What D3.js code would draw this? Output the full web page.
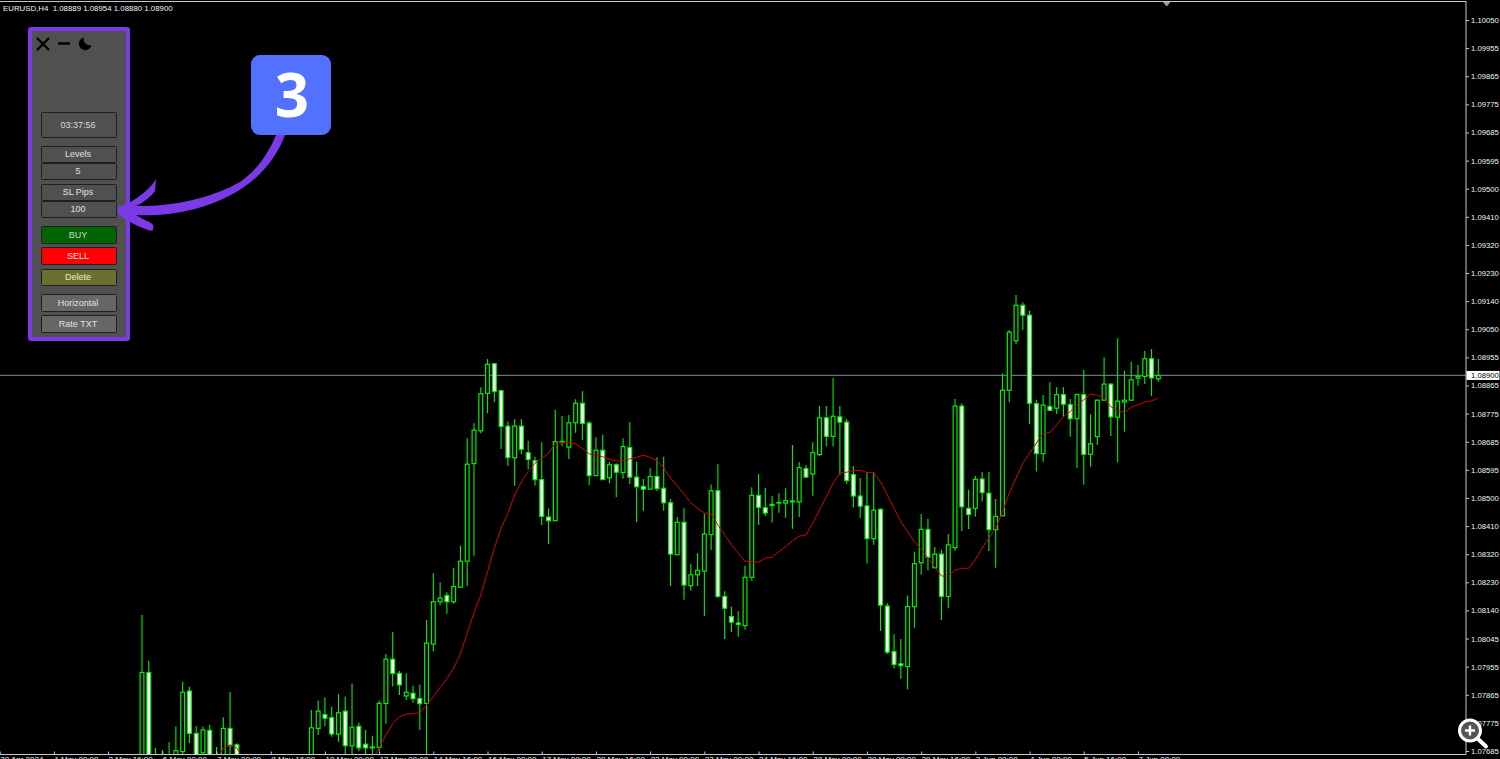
<!DOCTYPE html>
<html>
<head>
<meta charset="utf-8">
<style>
  html, body { margin: 0; background: #000; overflow: hidden; }
  svg { display: block; }
  text { font-family: "Liberation Sans", sans-serif; }
</style>
<script src="https://cdn.jsdelivr.net/npm/d3@7"></script>
</head>
<body>
<svg id="chart" width="1500" height="759"></svg>
<script>
// all prices are in points (1.08900 -> 108900).
// null = bar is below the bottom of the window, 107640 = end of bar is below it
var opens = [
  107650,107939,107650,107650,107650,107650,107683,107879,107742,107679,
  107752,107650,107650,107758,107705,null,null,null,null,null,
  null,null,null,null,null,107650,107758,107803,107793,107740,
  107814,107702,107765,107707,107698,107697,107839,107982,107936,107863,
  107872,107855,107839,108031,108168,108188,108168,108215,108299,108615,
  108721,108842,108938,108851,108736,108634,108736,108650,108624,108563,
  108442,108430,108683,108668,108747,108810,108746,108576,108658,108569,
  108611,108586,108667,108571,108541,108532,108573,108535,108488,108320,
  108425,108220,108255,108267,108385,108527,108185,108120,108099,108091,
  108247,108512,108472,108479,108487,108487,108491,108491,108599,108581,
  108644,108763,108703,108766,108749,108579,108510,108478,108372,108467,
  108154,108007,107967,107958,108152,108294,108402,108278,108322,108185,
  108343,108801,108470,108470,108565,108519,108401,108446,108852,109012,
  109127,109095,108809,108647,108800,108794,108838,108806,108760,108838,
  108645,108702,108820,108872,108765,108814,108820,108891,108897,108954,
  108889
];
var highs = [
  108125,107977,107695,107688,107714,107764,107909,107893,107766,107764,
  107769,107698,107794,107876,107710,null,null,null,null,null,
  null,null,null,null,null,107818,107848,107859,107828,107869,
  107861,107903,107777,107753,107734,107848,107999,108070,107944,107936,
  107896,107899,108109,108260,108231,108199,108278,108349,108697,108745,
  108862,108953,108939,108853,108751,108758,108758,108689,108637,108684,
  108470,108789,108769,108772,108823,108849,108752,108700,108708,108620,
  108616,108697,108749,108621,108565,108600,108635,108637,108500,108442,
  108470,108289,108325,108452,108547,108613,108202,108152,108137,108284,
  108538,108580,108536,108510,108519,108535,108675,108620,108610,108684,
  108801,108801,108892,108801,108758,108606,108568,108587,108587,108470,
  108163,108063,108047,108188,108330,108452,108436,108345,108336,108387,
  108824,108810,108530,108575,108588,108588,108500,108907,109047,109160,
  109137,109109,108821,108837,108878,108862,108862,108824,108842,108918,
  108774,108821,108958,108875,109020,108915,108944,108934,108979,108985,
  108954
];
var lows = [
  107640,107640,107640,107640,107640,107640,107640,107711,107640,107640,
  107640,107640,107640,107640,107640,null,null,null,null,null,
  null,null,null,null,null,107640,107737,107765,107731,107715,
  107640,107640,107684,107640,107640,107684,107773,107894,107866,107850,
  107841,107753,107640,108007,108156,108129,108161,108215,108219,108317,
  108713,108778,108813,108662,108607,108543,108645,108597,108543,108416,
  108355,108430,108672,108630,108715,108691,108545,108576,108563,108552,
  108507,108566,108548,108426,108462,108532,108526,108462,108219,108320,
  108174,108204,108219,108122,108335,108181,108047,108070,108055,108077,
  108236,108416,108445,108424,108456,108440,108404,108442,108571,108511,
  108640,108670,108670,108578,108550,108474,108440,108292,108352,108073,
  107999,107953,107919,107885,108084,108255,108269,108276,108109,108147,
  108333,108397,108403,108443,108492,108332,108278,108446,108813,109002,
  109047,108742,108589,108621,108787,108775,108767,108702,108600,108546,
  108605,108675,108820,108704,108619,108718,108820,108867,108872,108834,
  108880
];
var closes = [
  107939,107650,107655,107655,107655,107686,107875,107742,107650,107753,
  107650,107655,107758,107702,107650,null,null,null,null,null,
  null,null,null,null,null,107760,107814,107791,107740,107809,
  107702,107762,107695,107695,107695,107839,107982,107936,107899,107875,
  107854,107838,108034,108168,108180,108168,108217,108299,108613,108723,
  108841,108936,108848,108735,108634,108736,108661,108628,108563,108444,
  108430,108686,108687,108747,108810,108745,108576,108658,108563,108611,
  108587,108670,108571,108540,108532,108573,108534,108488,108322,108425,
  108222,108255,108270,108387,108527,108185,108147,108102,108094,108247,
  108512,108473,108455,108483,108489,108495,108494,108602,108571,108650,
  108763,108703,108768,108749,108560,108510,108477,108372,108464,108157,
  108005,107965,107961,108152,108291,108402,108312,108322,108185,108352,
  108801,108475,108450,108564,108521,108401,108444,108852,109040,109127,
  109095,108810,108647,108804,108787,108838,108807,108760,108838,108645,
  108679,108820,108872,108766,108817,108820,108886,108897,108954,108892,
  108900
];
// the red moving average
var average = [
  null,null,null,null,null,null,null,null,null,null,
  null,107656,107695,107705,107695,107656,null,null,null,null,
  null,null,null,null,null,null,null,null,null,null,
  null,null,null,null,107656,107695,107737,107773,107796,107804,
  107806,107809,107834,107861,107891,107919,107953,107999,108067,108132,
  108190,108265,108341,108406,108454,108513,108556,108589,108616,108632,
  108648,108681,108683,108683,108678,108664,108646,108643,108637,108629,
  108623,108624,108630,108635,108642,108635,108624,108601,108568,108543,
  108517,108488,108470,108455,108453,108416,108384,108352,108325,108299,
  108298,108296,108309,108312,108330,108346,108365,108380,108384,108422,
  108465,108508,108551,108584,108587,108593,108593,108586,108585,108556,
  108513,108470,108427,108395,108362,108338,108309,108280,108251,108251,
  108271,108276,108276,108305,108341,108373,108406,108459,108519,108567,
  108616,108648,108681,108713,108715,108740,108767,108783,108805,108821,
  108840,108836,108826,108799,108786,108780,108797,108805,108814,108818,
  108826
];

var priceLabels = [
  "1.10050","1.09955","1.09865","1.09775","1.09685","1.09595","1.09500","1.09410","1.09320",
  "1.09230","1.09140","1.09050","1.08955","1.08865","1.08775","1.08685","1.08595","1.08500",
  "1.08410","1.08320","1.08230","1.08140","1.08045","1.07955","1.07865","1.07775","1.07685"
];
var timeLabels = [
  "30 Apr 2024","1 May 00:00","2 May 16:00","6 May 00:00","7 May 00:00","8 May 16:00",
  "10 May 00:00","13 May 00:00","14 May 16:00","16 May 00:00","17 May 00:00","20 May 16:00",
  "22 May 00:00","23 May 00:00","24 May 16:00","28 May 00:00","29 May 00:00","30 May 16:00",
  "3 Jun 00:00","4 Jun 00:00","5 Jun 16:00","7 Jun 00:00"
];
// bar number of each time label, bar 0 is the first one on screen
var timeBars = [-21,-13,-5,3,11,19,27,35,43,51,59,67,75,83,91,99,107,115,123,131,139,147];

var panelButtons = ["03:37:56","Levels","5","SL Pips","100","BUY","SELL","Delete","Horizontal","Rate TXT"];
var buttonTop = [112,146,163,184,201,226,247,269,294,315];
var buttonHeight = [25,16,16,16,16,17,17,16,17,17];
var buttonFill = ["#505050","#505050","#505050","#505050","#505050","#006400","#ff0000","#6b7030","#666666","#666666"];
var buttonText = ["#d8d8d8","#e0e0e0","#e0e0e0","#e0e0e0","#e0e0e0","#c8dcc8","#ffe0e0","#f0eeb0","#e0e0e0","#e0e0e0"];

var header = "EURUSD,H4  1.08889 1.08954 1.08880 1.08900";
var lastPrice = closes[closes.length - 1];

var plotRight = 1466;
var plotBottom = 754.5;

var svg = d3.select("#chart");

var x = d3.scaleLinear().domain([0, 150]).range([142, 1158.3]);
var y = d3.scaleLinear().domain([110050, 107685]).range([20, 751]);
// the terminal spaces the price labels evenly and rounds the text
var yLabels = d3.scalePoint().domain(priceLabels).range([20, 751]);

svg.append("clipPath").attr("id", "plot")
  .append("rect").attr("x", 0).attr("y", 0).attr("width", plotRight).attr("height", plotBottom);

var plot = svg.append("g").attr("clip-path", "url(#plot)");

// line of the current price goes under the bars
plot.append("line")
  .attr("x1", 0).attr("x2", plotRight)
  .attr("y1", y(lastPrice)).attr("y2", y(lastPrice))
  .attr("stroke", "#66727c").attr("stroke-width", 1.2);

var bars = d3.range(opens.length).filter((i) => highs[i] !== null);

plot.selectAll(".wick")
  .data(bars)
  .enter()
  .append("line")
  .attr("class", "wick")
  .attr("x1", (i) => x(i)).attr("x2", (i) => x(i))
  .attr("y1", (i) => y(highs[i])).attr("y2", (i) => y(lows[i]))
  .attr("stroke", "#00f000").attr("stroke-width", 1.1);

plot.selectAll(".body")
  .data(bars)
  .enter()
  .append("rect")
  .attr("class", "body")
  .attr("x", (i) => x(i) - 1.9)
  .attr("width", 3.8)
  .attr("y", (i) => y(Math.max(opens[i], closes[i])))
  .attr("height", (i) => Math.abs(y(opens[i]) - y(closes[i])))
  .attr("fill", (i) => closes[i] >= opens[i] ? "#000" : "#fff")
  .attr("stroke", "#00f000").attr("stroke-width", 1.2);

var averageLine = d3.line()
  .defined((d) => d !== null)
  .x((d, i) => x(i))
  .y((d) => y(d));

plot.append("path")
  .attr("d", averageLine(average))
  .attr("fill", "none")
  .attr("stroke", "#d40000").attr("stroke-width", 1);

// frame
svg.append("line").attr("x1", 0).attr("x2", plotRight).attr("y1", 1.5).attr("y2", 1.5)
  .attr("stroke", "#c8c8c8").attr("stroke-width", 1);
svg.append("line").attr("x1", plotRight).attr("x2", plotRight).attr("y1", 1).attr("y2", plotBottom)
  .attr("stroke", "#c8c8c8").attr("stroke-width", 1);
svg.append("line").attr("x1", 0).attr("x2", plotRight).attr("y1", plotBottom).attr("y2", plotBottom)
  .attr("stroke", "#c8c8c8").attr("stroke-width", 1);

// little marker on top of the chart
svg.append("path")
  .attr("d", d3.line()([[1163, 2], [1170.5, 2], [1166.7, 6.5]]))
  .attr("fill", "#8ea2b6");

// price axis
var priceAxis = svg.append("g")
  .attr("transform", "translate(" + plotRight + ",0)")
  .call(d3.axisRight(yLabels).tickSizeOuter(0).tickSizeInner(3).tickPadding(2));
priceAxis.select(".domain").remove();
priceAxis.selectAll("line").attr("stroke", "#c8c8c8");
priceAxis.selectAll("text")
  .attr("fill", "#eef4f8")
  .style("font-size", "7.7px");

svg.append("rect")
  .attr("x", plotRight + 0.5).attr("y", y(lastPrice) - 4.5)
  .attr("width", 33).attr("height", 9)
  .attr("fill", "#fff");
svg.append("text")
  .attr("x", plotRight + 5).attr("y", y(lastPrice) + 3)
  .attr("fill", "#000")
  .style("font-size", "7.7px")
  .text(d3.format(".5f")(lastPrice / 100000));

// time axis, only the top of the labels fits in the window
var timeAxis = svg.append("g")
  .attr("transform", "translate(0," + plotBottom + ")")
  .call(d3.axisBottom(x).tickValues(timeBars).tickSizeOuter(0).tickFormat((d, i) => timeLabels[i]));
timeAxis.select(".domain").remove();
timeAxis.selectAll("line").attr("y2", -3).attr("stroke", "#c8c8c8");
timeAxis.selectAll("text")
  .attr("y", 7.6).attr("dy", null)
  .attr("text-anchor", "start")
  .attr("fill", "#eef4f8")
  .style("font-size", "8px");

svg.append("text")
  .attr("x", 3).attr("y", 10.5)
  .attr("fill", "#f4f4f4")
  .style("font-size", "7.85px")
  .style("white-space", "pre")
  .text(header);

// trade panel
var panel = svg.append("g");
panel.append("rect")
  .attr("x", 30).attr("y", 29).attr("width", 98).attr("height", 310)
  .attr("rx", 1)
  .attr("fill", "#505050")
  .attr("stroke", "#7a3ae6").attr("stroke-width", 4);

panel.selectAll(".button")
  .data(panelButtons)
  .enter()
  .append("rect")
  .attr("class", "button")
  .attr("x", 41.5)
  .attr("y", (d, i) => buttonTop[i] + 0.5)
  .attr("width", 75)
  .attr("height", (d, i) => buttonHeight[i])
  .attr("rx", 1)
  .attr("fill", (d, i) => buttonFill[i])
  .attr("stroke", "#202020").attr("stroke-width", 1);

panel.selectAll(".label")
  .data(panelButtons)
  .enter()
  .append("text")
  .attr("class", "label")
  .attr("x", 78)
  .attr("y", (d, i) => buttonTop[i] + buttonHeight[i] / 2 + 3.2)
  .attr("text-anchor", "middle")
  .attr("fill", (d, i) => buttonText[i])
  .style("font-size", "9px")
  .text((d) => d);

// close, minimize, night mode
panel.append("path")
  .attr("d", "M37,38 L49,50 M49,38 L37,50 M58,43.5 L70,43.5")
  .attr("fill", "none").attr("stroke", "#000").attr("stroke-width", 2.4);
panel.append("path")
  .attr("d", "M84,37.5 A6.4,6.4 0 1,0 91.5,45 A6,6 0 0,1 84,37.5 Z")
  .attr("fill", "#000");

// callout with the number
svg.append("path")
  .attr("d", "M285,135 C271,172 240,197 195,209 C172,215 150,216 136,215 C142,219 151,222 153,225 "
    + "C154,228 153,230 152,231 C140,228 127,221 118,214 L118,207 C131,204 150,190 156,179 L155,191 "
    + "C150,198 142,203 136,206 C170,207 210,199 240,182 C258,170 270,150 276,135 Z")
  .attr("fill", "#7a3ae6");
svg.append("rect")
  .attr("x", 251).attr("y", 55).attr("width", 80).attr("height", 80)
  .attr("rx", 9)
  .attr("fill", "#5271ff");
svg.append("text")
  .attr("x", 292).attr("y", 117)
  .attr("text-anchor", "middle")
  .attr("fill", "#fff")
  .style("font-size", "60px")
  .style("font-weight", "bold")
  .style("font-family", "'Open Sans', sans-serif")
  .text("3");

// zoom icon in the corner
var lens = svg.append("g");
lens.append("line")
  .attr("x1", 1477).attr("y1", 738).attr("x2", 1486).attr("y2", 746.5)
  .attr("stroke", "#fff").attr("stroke-width", 4).attr("stroke-linecap", "round");
lens.append("circle")
  .attr("cx", 1470).attr("cy", 730.5).attr("r", 10.5)
  .attr("fill", "#555").attr("stroke", "#fff").attr("stroke-width", 3);
lens.append("path")
  .attr("d", "M1465,730.5 L1475,730.5 M1470,725.5 L1470,735.5")
  .attr("stroke", "#fff").attr("stroke-width", 2.4);
</script>
</body>
</html>
